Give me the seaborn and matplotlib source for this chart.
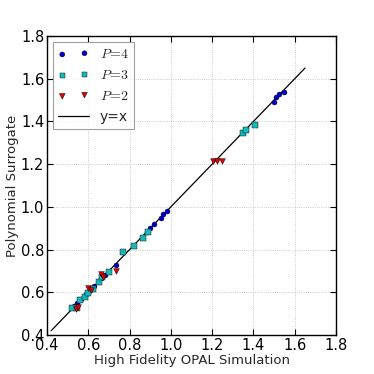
import numpy as np
import pandas as pd
import matplotlib
matplotlib.use("Agg")
import matplotlib.pyplot as plt
import seaborn as sns

p4_x = [0.53, 0.545, 0.565, 0.59, 0.61, 0.63, 0.66, 0.68, 0.735, 0.885, 0.90, 0.92, 0.95, 0.96, 0.98, 1.50, 1.51, 1.525, 1.55]
p4_y = [0.535, 0.55, 0.57, 0.59, 0.612, 0.63, 0.665, 0.68, 0.73, 0.88, 0.90, 0.92, 0.95, 0.965, 0.98, 1.49, 1.515, 1.527, 1.54]

p3_x = [0.52, 0.545, 0.56, 0.585, 0.60, 0.625, 0.65, 0.665, 0.70, 0.77, 0.82, 0.867, 0.89, 1.35, 1.365, 1.41]
p3_y = [0.525, 0.525, 0.565, 0.58, 0.595, 0.615, 0.65, 0.67, 0.696, 0.787, 0.815, 0.855, 0.884, 1.347, 1.358, 1.383]

p2_x = [0.54, 0.55, 0.60, 0.615, 0.66, 0.67, 0.734, 1.206, 1.225, 1.246]
p2_y = [0.52, 0.53, 0.62, 0.61, 0.684, 0.67, 0.70, 1.216, 1.216, 1.214]

line_x = [0.42, 1.65]
line_y = [0.42, 1.65]

sns.set_style("ticks")
plt.rcParams.update({
    "font.family": ["DejaVu Sans"],
    "font.size": 9,
    "xtick.direction": "in",
    "ytick.direction": "in",
    "xtick.top": True,
    "ytick.right": True,
    "xtick.major.size": 4,
    "ytick.major.size": 4,
    "axes.linewidth": 1.0,
    "axes.edgecolor": "black",
    "xtick.color": "black",
    "ytick.color": "black",
    "mathtext.fontset": "cm",
})

fig = plt.figure(figsize=(3.74, 3.74), dpi=100)
ax = fig.add_axes([47 / 374, 39 / 374, 289 / 374, 299 / 374])

sns.scatterplot(x=p4_x, y=p4_y, ax=ax, color="#0000cc", marker="o", s=13,
                edgecolor="black", linewidth=0.3, label="$P\\!=\\!4$", zorder=3)
sns.scatterplot(x=p3_x, y=p3_y, ax=ax, color="#17b8b8", marker="s", s=15,
                edgecolor="black", linewidth=0.3, label="$P\\!=\\!3$", zorder=3)
sns.scatterplot(x=p2_x, y=p2_y, ax=ax, color="#dd0000", marker="v", s=17,
                edgecolor="black", linewidth=0.3, label="$P\\!=\\!2$", zorder=3)
sns.lineplot(x=line_x, y=line_y, ax=ax, color="black", linewidth=0.9, label="y=x", zorder=2)

ax.set_xlim(0.4, 1.8)
ax.set_ylim(0.4, 1.8)
ticks = [0.4, 0.6, 0.8, 1.0, 1.2, 1.4, 1.6, 1.8]
ax.set_xticks(ticks)
ax.set_yticks(ticks)
ax.set_xticklabels([f"{t:.1f}" for t in ticks])
ax.set_yticklabels([f"{t:.1f}" for t in ticks])
ax.tick_params(labelsize=10.5, pad=2)
ax.grid(True, linestyle=":", color="#bbbbbb", linewidth=0.6)
ax.set_axisbelow(True)

ax.set_xlabel("High Fidelity OPAL Simulation", fontsize=9.5, labelpad=1)
ax.set_ylabel("Polynomial Surrogate", fontsize=9.5, labelpad=1)

leg = ax.legend(loc="upper left", fontsize=10, frameon=True, fancybox=False,
                scatterpoints=2, borderaxespad=0.4, handlelength=2.2)
leg.get_frame().set_edgecolor("#888888")
leg.get_frame().set_linewidth(0.8)

fig.savefig("out.png", dpi=100, facecolor="white")
